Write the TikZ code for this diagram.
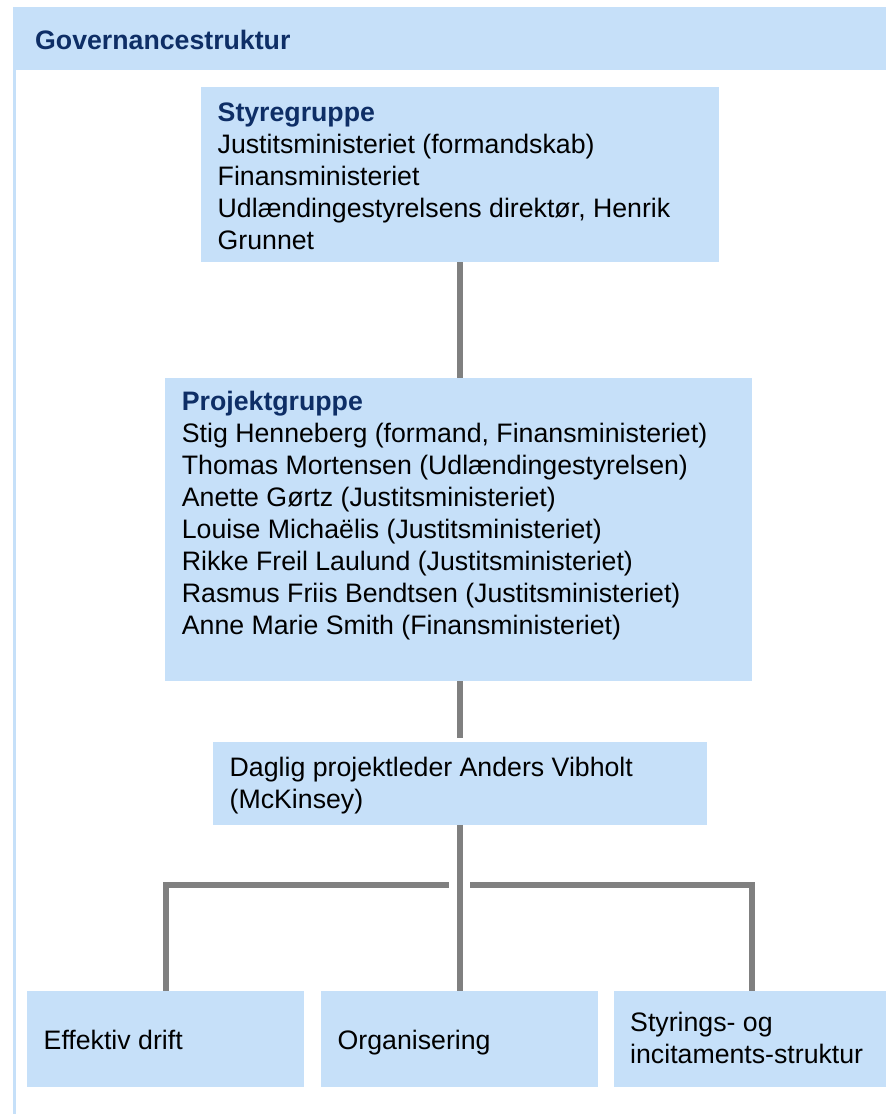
\documentclass[tikz,border=0pt]{standalone}
\usepackage{fontspec}
\setmainfont{Liberation Sans}
\usetikzlibrary{calc}
\definecolor{boxblue}{RGB}{198,224,249}
\definecolor{titleblue}{RGB}{14,46,102}
\definecolor{linegray}{RGB}{128,128,128}
\newcommand{\firststrut}{\rule{0pt}{21pt}}
\begin{document}
\begin{tikzpicture}[x=1pt,y=-1pt,
  orgbox/.style={fill=boxblue, draw=none, inner sep=0pt, anchor=north west},
  txt/.style={inner sep=0pt, anchor=north west, align=left,
    font=\fontsize{26.7}{31.9}\selectfont},
  onetxt/.style={inner sep=0pt, anchor=base west,
    font=\fontsize{26.7}{31.9}\selectfont},
  head/.style={font=\fontsize{26.7}{31.9}\selectfont\bfseries, text=titleblue},
  conn/.style={draw=linegray, line width=5.8pt, line join=miter}]
\useasboundingbox (0,0) rectangle (886,1114);

% frame: header band and left rule
\node[orgbox, minimum width=873pt, minimum height=63pt] (header) at (13,7) {};
\fill[boxblue] (13,70) rectangle (16.3,1114);
\node[onetxt, head] (title) at (35,49.3) {Governancestruktur};

% boxes
\node[orgbox, minimum width=518pt, minimum height=175pt] (styre) at (201,87) {};
\node[orgbox, minimum width=587pt, minimum height=303.5pt] (projekt) at (165,377.5) {};
\node[orgbox, minimum width=494pt, minimum height=82.5pt] (daglig) at (213,742) {};
\node[orgbox, minimum width=277pt, minimum height=96pt] (eff) at (27,991) {};
\node[orgbox, minimum width=277pt, minimum height=96pt] (org) at (321,991) {};
\node[orgbox, minimum width=272pt, minimum height=96pt] (sty) at (614,991) {};

% box texts
\node[txt] (styretxt) at (217.5,100.7) {\firststrut{\color{titleblue}\bfseries Styregruppe}\\
  Justitsministeriet (formandskab)\\
  Finansministeriet\\
  Udlændingestyrelsens direktør, Henrik\\
  Grunnet};
\node[txt] (projekttxt) at (181.7,389.7) {\firststrut{\color{titleblue}\bfseries Projektgruppe}\\
  Stig Henneberg (formand, Finansministeriet)\\
  Thomas Mortensen (Udlændingestyrelsen)\\
  Anette Gørtz (Justitsministeriet)\\
  Louise Michaëlis (Justitsministeriet)\\
  Rikke Freil Laulund (Justitsministeriet)\\
  Rasmus Friis Bendtsen (Justitsministeriet)\\
  Anne Marie Smith (Finansministeriet)};
\node[txt] (dagligtxt) at (229.5,755.7) {\firststrut Daglig projektleder Anders Vibholt\\
  (McKinsey)};
\node[onetxt] (efftxt) at (43.5,1049.3) {Effektiv drift};
\node[onetxt] (orgtxt) at (337.5,1049.3) {Organisering};
\node[txt] (stytxt) at (630,1010.7) {\firststrut Styrings- og\\
  incitaments-struktur};

% connectors
\draw[conn] (styre.south) -- (styre.south |- projekt.north);
\draw[conn, shorten >=4.5pt] (projekt.south -| daglig.north) -- (daglig.north);
\draw[conn] (daglig.south -| org.north) -- (org.north);
\coordinate (split) at (459.5,885);
\draw[conn] ([xshift=-11pt]split) -| (eff.north);
\draw[conn] ([xshift=10.5pt]split) -| ([xshift=2pt]sty.north);
\end{tikzpicture}
\end{document}
